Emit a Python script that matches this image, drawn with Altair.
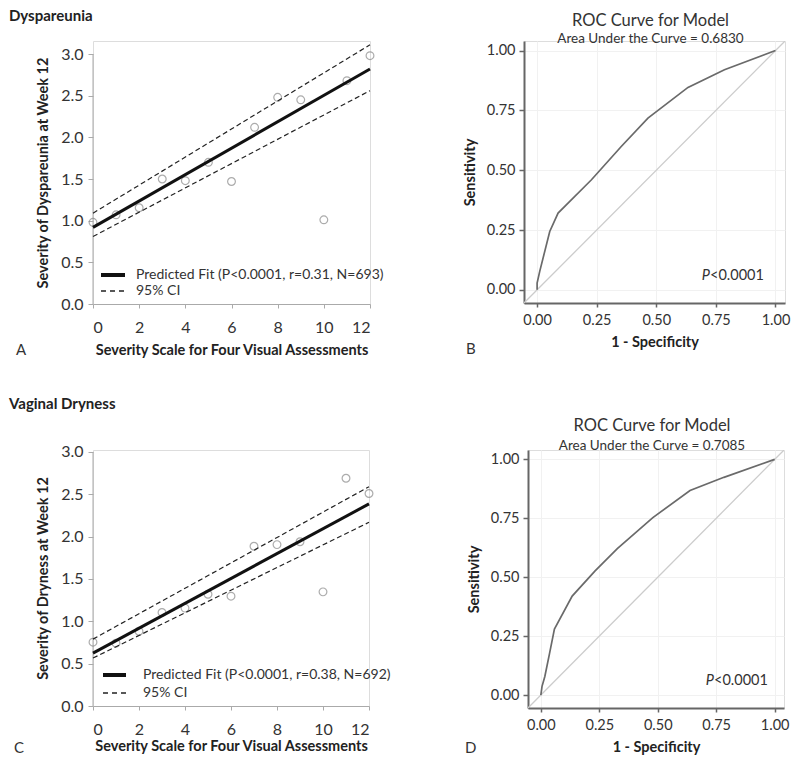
import altair as alt
import pandas as pd

FONT = "Lato"

# ---------------- data ----------------
severity = list(range(13))
dysp_obs = [0.98, 1.07, 1.155, 1.50, 1.48, 1.70, 1.47, 2.12, 2.48, 2.45, 1.01, 2.68, 2.98]
dry_obs = [0.754, 0.742, 0.883, 1.105, 1.156, 1.32, 1.297, 1.887, 1.906, 1.94, 1.348, 2.69, 2.51]

fit_x = [0, 12]
dysp_fit = [0.92, 2.82]
dysp_upper = [1.09, 3.11]
dysp_lower = [0.81, 2.56]
dry_fit = [0.625, 2.387]
dry_upper = [0.79, 2.59]
dry_lower = [0.566, 2.17]

roc_b_fpr = [0.0, 0.0, 0.011, 0.053, 0.088, 0.228, 0.354, 0.465, 0.633, 0.786, 1.0]
roc_b_tpr = [0.0, 0.028, 0.077, 0.244, 0.321, 0.46, 0.60, 0.718, 0.846, 0.92, 1.0]
roc_d_fpr = [0.0, 0.005, 0.017, 0.037, 0.058, 0.134, 0.231, 0.327, 0.479, 0.638, 0.783, 1.0]
roc_d_tpr = [0.0, 0.037, 0.079, 0.176, 0.28, 0.42, 0.526, 0.621, 0.753, 0.868, 0.924, 1.0]
ref_diag = [-0.06, 1.05]

x_ticks = [0, 2, 4, 6, 8, 10, 12]
y_ticks = [0.0, 0.5, 1.0, 1.5, 2.0, 2.5, 3.0]
y_axis_span = [0.0, 3.0]
roc_ticks = [0.0, 0.25, 0.5, 0.75, 1.0]

legend_a = ["Predicted Fit (P<0.0001, r=0.31, N=693)", "95% CI"]
legend_c = ["Predicted Fit (P<0.0001, r=0.38, N=692)", "95% CI"]


def text_layer(label, x, y, size=14, weight="normal", align="left", style="normal",
               color="#222", baseline="middle"):
    return alt.Chart(pd.DataFrame({"t": [label]})).mark_text(
        font=FONT, fontSize=size, fontWeight=weight, align=align, baseline=baseline,
        fontStyle=style, color=color
    ).encode(x=alt.value(x), y=alt.value(y), text="t:N")


def scatter_panel(obs, fit, upper, lower, heading, letter, ytitle, legend, w, h, ytop,
                  heading_xy, letter_xy, leg_line_x, leg_y, leg_text_x, title_pad):
    xs = alt.Scale(domain=[0, 12], nice=False, zero=False)
    ys = alt.Scale(domain=[0, ytop], nice=False)
    xax = alt.Axis(values=x_ticks, title="Severity Scale for Four Visual Assessments",
                   grid=False, domainColor="#aaa", tickColor="#aaa", tickSize=4,
                   labelFontSize=16, labelPadding=11, labelColor="#333", labelFont=FONT,
                   titleFont=FONT, titleFontSize=14.5, titleFontWeight="bold",
                   titleColor="#222", titlePadding=title_pad)
    yax = alt.Axis(values=y_ticks, format=".1f", title=ytitle, grid=False, domain=False,
                   tickColor="#aaa", tickSize=5, labelFontSize=16,
                   labelPadding=5, labelColor="#333", labelFont=FONT, titleFont=FONT,
                   titleFontSize=14.5, titleFontWeight="bold", titleColor="#222",
                   titlePadding=10)
    X = alt.X("x:Q", scale=xs, axis=xax)
    Y = alt.Y("y:Q", scale=ys, axis=yax)

    yline = alt.Chart(pd.DataFrame({"y": [y_axis_span[0]], "y2": [y_axis_span[1]]})).mark_rule(
        color="#aaa", strokeWidth=1).encode(x=alt.value(0), y=Y, y2="y2:Q")
    pts = alt.Chart(pd.DataFrame({"x": severity, "y": obs})).mark_point(
        filled=False, shape="circle", size=60, color="#8a8a8a", strokeWidth=1.2
    ).encode(x=X, y=Y)
    fit_l = alt.Chart(pd.DataFrame({"x": fit_x, "y": fit})).mark_line(
        color="#111", strokeWidth=3).encode(x=X, y=Y)
    ci = alt.Chart(pd.DataFrame({"x": fit_x + fit_x, "y": upper + lower,
                                 "band": ["upper"] * 2 + ["lower"] * 2})).mark_line(
        color="#222", strokeWidth=1.2, strokeDash=[5, 3]
    ).encode(x=X, y=Y, detail="band:N")

    leg_solid = alt.Chart(pd.DataFrame({"t": [0]})).mark_rule(
        color="#111", strokeWidth=4).encode(
        x=alt.value(leg_line_x[0]), x2=alt.value(leg_line_x[1]), y=alt.value(leg_y[0]))
    leg_dash = alt.Chart(pd.DataFrame({"t": [0]})).mark_rule(
        color="#222", strokeWidth=1.3, strokeDash=[5, 4]).encode(
        x=alt.value(leg_line_x[0]), x2=alt.value(leg_line_x[1]), y=alt.value(leg_y[1]))
    leg_t1 = text_layer(legend[0], leg_text_x, leg_y[0], size=14, color="#333")
    leg_t2 = text_layer(legend[1], leg_text_x, leg_y[1], size=14, color="#333")

    head = text_layer(heading, heading_xy[0], heading_xy[1], size=15, weight="bold",
                      baseline="top", color="#222")
    let = text_layer(letter, letter_xy[0], letter_xy[1], size=15, color="#333")

    return alt.layer(yline, pts, ci, fit_l, leg_solid, leg_dash, leg_t1, leg_t2, head,
                     let).properties(width=w, height=h)


def roc_panel(fpr, tpr, auc_text, letter, w, h, title_y, sub_y, letter_xy, p_xy):
    xs = alt.Scale(domain=[-0.055, 1.04], nice=False, zero=False)
    ys = alt.Scale(domain=[-0.055, 1.04], nice=False, zero=False)
    common = dict(values=roc_ticks, format=".2f", grid=True, gridColor="#f1f1f1",
                  domainColor="#666", domainWidth=2, tickColor="#666", tickWidth=1.5,
                  labelFontSize=14.5, labelColor="#333", labelFont=FONT, titleFont=FONT,
                  titleFontSize=14.5, titleFontWeight="bold", titleColor="#222")
    xax = alt.Axis(title="1 - Specificity", tickSize=4, labelPadding=6, titlePadding=9, **common)
    yax = alt.Axis(title="Sensitivity", tickSize=5, labelPadding=4, titlePadding=9, **common)
    X = alt.X("fpr:Q", scale=xs, axis=xax)
    Y = alt.Y("tpr:Q", scale=ys, axis=yax)

    diag = alt.Chart(pd.DataFrame({"fpr": ref_diag, "tpr": ref_diag})).mark_line(
        color="#cccccc", strokeWidth=1.3, clip=True).encode(x=X, y=Y)
    curve = alt.Chart(pd.DataFrame({"fpr": fpr, "tpr": tpr})).mark_line(
        color="#6a6a6a", strokeWidth=1.7).encode(x=X, y=Y)

    t1 = text_layer("ROC Curve for Model", w / 2 - 4, title_y, size=16.5, align="center",
                    color="#333")
    t2 = text_layer(auc_text, w / 2 - 4, sub_y, size=13.5, align="center", color="#333")
    p1 = text_layer("P", p_xy[0], p_xy[1], size=14.5, align="right", style="italic",
                    color="#333")
    p2 = text_layer("<0.0001", p_xy[0], p_xy[1], size=14.5, align="left", color="#333")
    let = text_layer(letter, letter_xy[0], letter_xy[1], size=15, color="#333")

    return alt.layer(diag, curve, t1, t2, p1, p2, let).properties(width=w, height=h)


A = scatter_panel(dysp_obs, dysp_fit, dysp_upper, dysp_lower, "Dyspareunia", "A",
                  "Severity of Dyspareunia at Week 12", legend_a, 277, 263, 3.156,
                  heading_xy=(-84, -32), letter_xy=(-77, 309),
                  leg_line_x=(8, 32), leg_y=(234, 250), leg_text_x=43, title_pad=8)
B = roc_panel(roc_b_fpr, roc_b_tpr, "Area Under the Curve = 0.6830", "B", 261, 262,
              title_y=-20, sub_y=-2.5, letter_xy=(-58, 308), p_xy=(186, 235))
C = scatter_panel(dry_obs, dry_fit, dry_upper, dry_lower, "Vaginal Dryness", "C",
                  "Severity of Dryness at Week 12", legend_c, 276, 256, 3.0236,
                  heading_xy=(-84, -53), letter_xy=(-79, 298),
                  leg_line_x=(10, 33), leg_y=(225, 243), leg_text_x=50, title_pad=2)
D = roc_panel(roc_d_fpr, roc_d_tpr, "Area Under the Curve = 0.7085", "D", 256, 258,
              title_y=-24, sub_y=-4, letter_xy=(-63, 298), p_xy=(186, 231))

row1 = alt.hconcat(A, B, spacing=77)
row2 = alt.hconcat(C, D, spacing=73)

chart = alt.vconcat(row1, row2, spacing=37).properties(
    padding=0
).configure_view(stroke=None).configure(font=FONT)

chart.save("out.html", embed_options={"renderer": "svg", "actions": False})
